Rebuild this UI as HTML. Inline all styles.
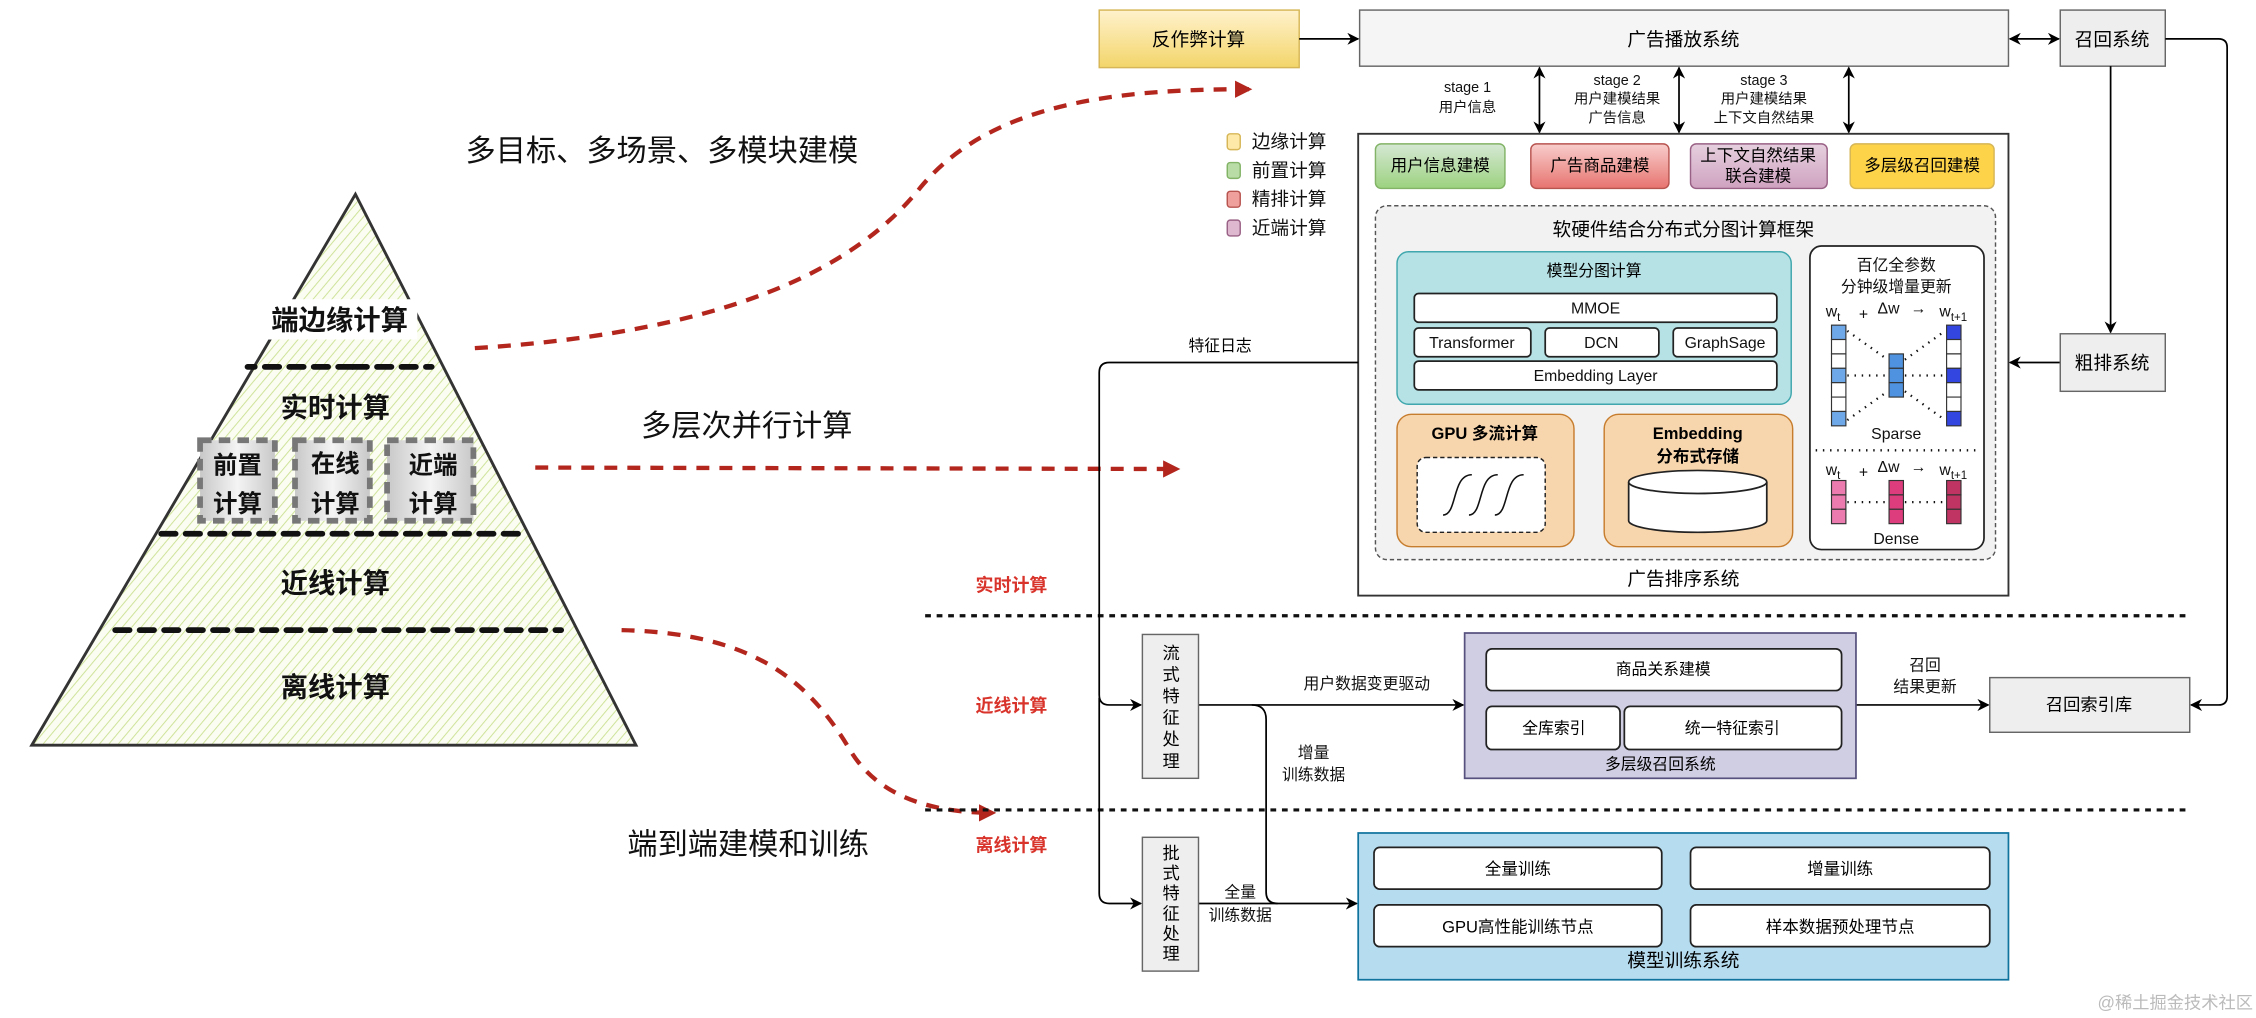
<!DOCTYPE html>
<html><head><meta charset="utf-8"><style>
html,body{margin:0;padding:0;background:#fff;}
svg{display:block;}
text{font-family:"Liberation Sans","Noto Sans CJK SC",sans-serif;}
</style></head><body>
<svg width="2256" height="1018" viewBox="0 0 1568 707.6" xmlns="http://www.w3.org/2000/svg">
<defs>
<pattern id="hatch" width="5" height="5" patternUnits="userSpaceOnUse" patternTransform="rotate(40)">
<rect width="5" height="5" fill="#fbfdf2"/><line x1="0" y1="0" x2="0" y2="5" stroke="#cfe39a" stroke-width="1.4"/></pattern>
<linearGradient id="gy" x1="0" y1="0" x2="0" y2="1"><stop offset="0" stop-color="#fff2cc"/><stop offset="1" stop-color="#f3d56a"/></linearGradient>
<linearGradient id="gg" x1="0" y1="0" x2="0" y2="1"><stop offset="0" stop-color="#d5e8d4"/><stop offset="1" stop-color="#9cd27f"/></linearGradient>
<linearGradient id="gr" x1="0" y1="0" x2="0" y2="1"><stop offset="0" stop-color="#f8cecc"/><stop offset="1" stop-color="#e7736f"/></linearGradient>
<linearGradient id="gp" x1="0" y1="0" x2="0" y2="1"><stop offset="0" stop-color="#e6d0de"/><stop offset="1" stop-color="#cfa2c0"/></linearGradient>
<linearGradient id="gs" x1="0" y1="0" x2="1" y2="0"><stop offset="0" stop-color="#c8c8c8"/><stop offset="0.5" stop-color="#f4f4f4"/><stop offset="1" stop-color="#c8c8c8"/></linearGradient>
<marker id="a" viewBox="0 0 10 10" refX="9" refY="5" markerWidth="7" markerHeight="7" orient="auto-start-reverse"><path d="M0,0 L10,5 L0,10 L3,5z" fill="#000"/></marker>
<marker id="ar" viewBox="0 0 10 10" refX="8" refY="5" markerWidth="4" markerHeight="4" orient="auto"><path d="M0,0 L10,5 L0,10z" fill="#b3261e"/></marker>
</defs>

<!-- pyramid -->
<polygon points="247,135 442,518 22,518" fill="url(#hatch)" stroke="#333" stroke-width="2"/>
<g stroke="#111" stroke-width="4" stroke-dasharray="10,7" stroke-linecap="round">
<line x1="245" y1="255" x2="300" y2="255"/><line x1="245" y1="255" x2="172" y2="255"/>
<line x1="112" y1="371" x2="362" y2="371"/>
<line x1="80" y1="438" x2="390" y2="438"/>
</g>
<g font-size="19" font-weight="bold" text-anchor="middle" fill="#111">
<rect x="182" y="208" width="108" height="28" fill="#fff"/>
<text x="236" y="229">端边缘计算</text>
<text x="233" y="290">实时计算</text>
<text x="233" y="412">近线计算</text>
<text x="233" y="484">离线计算</text>
</g>
<g stroke="#777" stroke-width="4" stroke-dasharray="8,5" fill="url(#gs)">
<rect x="139" y="306" width="52" height="56"/><rect x="205" y="306" width="52" height="56"/><rect x="269" y="306" width="60" height="56"/>
</g>
<g font-size="17" font-weight="bold" text-anchor="middle" fill="#111">
<text x="165" y="329">前置</text><text x="165" y="356">计算</text>
<text x="233" y="328">在线</text><text x="233" y="356">计算</text>
<text x="301" y="329">近端</text><text x="301" y="356">计算</text>
</g>

<!-- headings -->
<g font-size="21" fill="#111" text-anchor="middle">
<text x="460" y="112">多目标、多场景、多模块建模</text>
<text x="519" y="303">多层次并行计算</text>
<text x="520" y="594">端到端建模和训练</text>
</g>
<!-- red curves -->
<g stroke="#b3261e" stroke-width="3" fill="none" stroke-dasharray="9,7" marker-end="url(#ar)">
<path d="M330,242 C520,230 600,180 640,130 C690,70 780,62 868,62"/>
<path d="M372,325 L818,326"/>
<path d="M432,438 C520,440 560,470 590,520 C610,555 650,565 690,565"/>
</g>

<!-- top row -->
<rect x="764" y="7" width="139" height="40" fill="url(#gy)" stroke="#d6b656"/>
<text x="833" y="32" font-size="13" text-anchor="middle">反作弊计算</text>
<rect x="945" y="7" width="451" height="39" fill="#f5f5f5" stroke="#666"/>
<text x="1170" y="32" font-size="13" text-anchor="middle">广告播放系统</text>
<rect x="1432" y="7" width="73" height="39" fill="#eee" stroke="#666"/>
<text x="1468" y="32" font-size="13" text-anchor="middle">召回系统</text>
<g stroke="#000" stroke-width="1.2" fill="none">
<line x1="903" y1="27" x2="944" y2="27" marker-end="url(#a)"/>
<line x1="1397" y1="27" x2="1431" y2="27" marker-start="url(#a)" marker-end="url(#a)"/>
<path d="M1505,27 L1542,27 Q1548,27 1548,33 L1548,484 Q1548,490 1542,490 L1523,490" marker-end="url(#a)"/>
<line x1="1467" y1="46" x2="1467" y2="231" marker-end="url(#a)"/>
<line x1="1432" y1="252" x2="1397" y2="252" marker-end="url(#a)"/>
<line x1="1070" y1="47" x2="1070" y2="92" marker-start="url(#a)" marker-end="url(#a)"/>
<line x1="1167" y1="47" x2="1167" y2="92" marker-start="url(#a)" marker-end="url(#a)"/>
<line x1="1285" y1="47" x2="1285" y2="92" marker-start="url(#a)" marker-end="url(#a)"/>
</g>
<g font-size="10" text-anchor="middle" fill="#111">
<text x="1020" y="64">stage 1</text><text x="1020" y="78">用户信息</text>
<text x="1124" y="59">stage 2</text><text x="1124" y="72">用户建模结果</text><text x="1124" y="85">广告信息</text>
<text x="1226" y="59">stage 3</text><text x="1226" y="72">用户建模结果</text><text x="1226" y="85">上下文自然结果</text>
</g>
<rect x="1432" y="232" width="73" height="40" fill="#eee" stroke="#666"/>
<text x="1468" y="257" font-size="13" text-anchor="middle">粗排系统</text>

<!-- legend -->
<g font-size="13" fill="#111">
<rect x="853" y="93" width="9" height="11" rx="2" fill="#ffe9a8" stroke="#d6b656"/><text x="870" y="103">边缘计算</text>
<rect x="853" y="113" width="9" height="11" rx="2" fill="#b9dca6" stroke="#82b366"/><text x="870" y="123">前置计算</text>
<rect x="853" y="133" width="9" height="11" rx="2" fill="#f0a09c" stroke="#b85450"/><text x="870" y="143">精排计算</text>
<rect x="853" y="153" width="9" height="11" rx="2" fill="#ddb8cf" stroke="#996185"/><text x="870" y="163">近端计算</text>
</g>

<!-- ranking system -->
<rect x="944" y="93" width="452" height="321" fill="#fff" stroke="#333" stroke-width="1.3"/>
<text x="1170" y="407" font-size="13" text-anchor="middle">广告排序系统</text>
<rect x="956" y="100" width="90" height="31" rx="4" fill="url(#gg)" stroke="#82b366"/>
<text x="1001" y="119" font-size="11.5" text-anchor="middle">用户信息建模</text>
<rect x="1064" y="100" width="96" height="31" rx="4" fill="url(#gr)" stroke="#b85450"/>
<text x="1112" y="119" font-size="11.5" text-anchor="middle">广告商品建模</text>
<rect x="1175" y="100" width="95" height="31" rx="4" fill="url(#gp)" stroke="#996185"/>
<text x="1222" y="112" font-size="11.5" text-anchor="middle">上下文自然结果</text><text x="1222" y="126" font-size="11.5" text-anchor="middle">联合建模</text>
<rect x="1286" y="100" width="100" height="31" rx="4" fill="#fdd34a" stroke="#d6b656"/>
<text x="1336" y="119" font-size="11.5" text-anchor="middle">多层级召回建模</text>

<rect x="956" y="143" width="431" height="246" rx="8" fill="#f2f2f2" stroke="#555" stroke-dasharray="3,2"/>
<text x="1170" y="164" font-size="13" text-anchor="middle">软硬件结合分布式分图计算框架</text>
<rect x="971" y="175" width="274" height="106" rx="8" fill="#b6e2e5" stroke="#3fa7ad"/>
<text x="1108" y="192" font-size="11" text-anchor="middle">模型分图计算</text>
<g fill="#fff" stroke="#222" stroke-width="1.2">
<rect x="983" y="204" width="252" height="20" rx="3"/>
<rect x="983" y="228" width="81" height="20" rx="3"/><rect x="1074" y="228" width="79" height="20" rx="3"/><rect x="1163" y="228" width="72" height="20" rx="3"/>
<rect x="983" y="251" width="252" height="20" rx="3"/>
</g>
<g font-size="11" text-anchor="middle" fill="#111">
<text x="1109" y="218">MMOE</text><text x="1023" y="242">Transformer</text><text x="1113" y="242">DCN</text><text x="1199" y="242">GraphSage</text><text x="1109" y="265">Embedding Layer</text>
</g>
<rect x="971" y="288" width="123" height="92" rx="10" fill="#f8d6ad" stroke="#c77d2e"/>
<text x="1032" y="305" font-size="11.5" font-weight="bold" text-anchor="middle">GPU 多流计算</text>
<rect x="985" y="318" width="89" height="52" rx="6" fill="#fff" stroke="#222" stroke-dasharray="3,2"/>
<g stroke="#111" stroke-width="1.1" fill="none">
<path d="M1003,358 C1013,358 1009,330 1023,330"/><path d="M1021,358 C1031,358 1027,330 1041,330"/><path d="M1039,358 C1049,358 1045,330 1059,330"/>
</g>
<rect x="1115" y="288" width="131" height="92" rx="10" fill="#f8d6ad" stroke="#c77d2e"/>
<text x="1180" y="305" font-size="11.5" font-weight="bold" text-anchor="middle">Embedding</text>
<text x="1180" y="321" font-size="11.5" font-weight="bold" text-anchor="middle">分布式存储</text>
<path d="M1132,335 L1132,362 A48,8 0 0 0 1228,362 L1228,335" fill="#fff" stroke="#222" stroke-width="1.2"/>
<ellipse cx="1180" cy="335" rx="48" ry="8" fill="#fff" stroke="#222" stroke-width="1.2"/>

<!-- sparse panel -->
<rect x="1258" y="171" width="121" height="211" rx="8" fill="#fff" stroke="#222" stroke-width="1.2"/>
<g font-size="11" text-anchor="middle" fill="#111">
<text x="1318" y="188">百亿全参数</text><text x="1318" y="203">分钟级增量更新</text>
<text x="1318" y="305">Sparse</text><text x="1318" y="378">Dense</text>
</g>
<g font-size="11" fill="#111">
<text x="1269" y="220">w<tspan font-size="8" dy="3">t</tspan></text><text x="1292" y="222">+</text><text x="1305" y="218">Δw</text><text x="1328" y="218">→</text><text x="1348" y="220">w<tspan font-size="8" dy="3">t+1</tspan></text>
<text x="1269" y="330">w<tspan font-size="8" dy="3">t</tspan></text><text x="1292" y="332">+</text><text x="1305" y="328">Δw</text><text x="1328" y="328">→</text><text x="1348" y="330">w<tspan font-size="8" dy="3">t+1</tspan></text>
</g>
<g stroke="#333" stroke-width="0.8">
<rect x="1273" y="226" width="10" height="10" fill="#6fa8e8"/><rect x="1273" y="236" width="10" height="10" fill="#fff"/><rect x="1273" y="246" width="10" height="10" fill="#fff"/><rect x="1273" y="256" width="10" height="10" fill="#6fa8e8"/><rect x="1273" y="266" width="10" height="10" fill="#fff"/><rect x="1273" y="276" width="10" height="10" fill="#fff"/><rect x="1273" y="286" width="10" height="10" fill="#6fa8e8"/>
<rect x="1353" y="226" width="10" height="10" fill="#3346e0"/><rect x="1353" y="236" width="10" height="10" fill="#fff"/><rect x="1353" y="246" width="10" height="10" fill="#fff"/><rect x="1353" y="256" width="10" height="10" fill="#3346e0"/><rect x="1353" y="266" width="10" height="10" fill="#fff"/><rect x="1353" y="276" width="10" height="10" fill="#fff"/><rect x="1353" y="286" width="10" height="10" fill="#3346e0"/>
<rect x="1313" y="246" width="10" height="10" fill="#4f93e0"/><rect x="1313" y="256" width="10" height="10" fill="#4f93e0"/><rect x="1313" y="266" width="10" height="10" fill="#4f93e0"/>
<rect x="1273" y="334" width="10" height="10" fill="#ec7bb0"/><rect x="1273" y="344" width="10" height="10" fill="#ec7bb0"/><rect x="1273" y="354" width="10" height="10" fill="#ec7bb0"/>
<rect x="1313" y="334" width="10" height="10" fill="#de3d7d"/><rect x="1313" y="344" width="10" height="10" fill="#de3d7d"/><rect x="1313" y="354" width="10" height="10" fill="#de3d7d"/>
<rect x="1353" y="334" width="10" height="10" fill="#bf3463"/><rect x="1353" y="344" width="10" height="10" fill="#bf3463"/><rect x="1353" y="354" width="10" height="10" fill="#bf3463"/>
</g>
<g stroke="#111" stroke-width="1.6" stroke-dasharray="1,4" fill="none">
<line x1="1284" y1="230" x2="1312" y2="250"/><line x1="1284" y1="292" x2="1312" y2="272"/><line x1="1284" y1="261" x2="1312" y2="261"/>
<line x1="1324" y1="250" x2="1352" y2="230"/><line x1="1324" y1="272" x2="1352" y2="292"/><line x1="1324" y1="261" x2="1352" y2="261"/>
<line x1="1262" y1="313" x2="1376" y2="313"/>
<line x1="1284" y1="349" x2="1312" y2="349"/><line x1="1324" y1="349" x2="1352" y2="349"/>
</g>

<!-- separators -->
<g stroke="#111" stroke-width="2.2" stroke-dasharray="4,4">
<line x1="643" y1="428" x2="1520" y2="428"/><line x1="643" y1="563" x2="1520" y2="563"/>
</g>
<g font-size="12.5" font-weight="bold" fill="#d9342b" text-anchor="middle">
<text x="703" y="411">实时计算</text><text x="703" y="495">近线计算</text><text x="703" y="592">离线计算</text>
</g>

<!-- feature log lines -->
<text x="848" y="244" font-size="11" text-anchor="middle">特征日志</text>
<g stroke="#000" stroke-width="1.2" fill="none">
<path d="M944,252 L771,252 Q764,252 764,259 L764,483 Q764,490 771,490 L793,490" marker-end="url(#a)"/>
<path d="M764,485 L764,621 Q764,628 771,628 L793,628" marker-end="url(#a)"/>
<line x1="833" y1="490" x2="1017" y2="490" marker-end="url(#a)"/>
<path d="M870,490 Q880,490 880,500 L880,620 Q880,628 888,628"/>
<line x1="833" y1="628" x2="943" y2="628" marker-end="url(#a)"/>
<line x1="1290" y1="490" x2="1382" y2="490" marker-end="url(#a)"/>
</g>
<g font-size="11" text-anchor="middle" fill="#111">
<text x="950" y="479">用户数据变更驱动</text>
<text x="913" y="527">增量</text><text x="913" y="542">训练数据</text>
<text x="862" y="624">全量</text><text x="862" y="640">训练数据</text>
<text x="1338" y="466">召回</text><text x="1338" y="481">结果更新</text>
</g>

<rect x="794" y="441" width="39" height="100" fill="#eee" stroke="#666"/>
<g font-size="12" text-anchor="middle"><text x="814" y="458">流</text><text x="814" y="473">式</text><text x="814" y="488">特</text><text x="814" y="503">征</text><text x="814" y="518">处</text><text x="814" y="533">理</text></g>
<rect x="794" y="582" width="39" height="93" fill="#eee" stroke="#666"/>
<g font-size="12" text-anchor="middle"><text x="814" y="597">批</text><text x="814" y="611">式</text><text x="814" y="625">特</text><text x="814" y="639">征</text><text x="814" y="653">处</text><text x="814" y="667">理</text></g>

<rect x="1018" y="440" width="272" height="101" fill="#d0cee2" stroke="#56517e" stroke-width="1.2"/>
<g fill="#fff" stroke="#222" stroke-width="1.2">
<rect x="1033" y="451" width="247" height="29" rx="4"/><rect x="1033" y="491" width="93" height="30" rx="4"/><rect x="1129" y="491" width="151" height="30" rx="4"/>
</g>
<g font-size="11" text-anchor="middle"><text x="1156" y="469">商品关系建模</text><text x="1080" y="510">全库索引</text><text x="1204" y="510">统一特征索引</text><text x="1154" y="535">多层级召回系统</text></g>
<rect x="1383" y="471" width="139" height="38" fill="#eee" stroke="#666"/>
<text x="1452" y="494" font-size="12" text-anchor="middle">召回索引库</text>

<rect x="944" y="579" width="452" height="102" fill="#b5dcef" stroke="#10739e" stroke-width="1.2"/>
<g fill="#fff" stroke="#222" stroke-width="1.2">
<rect x="955" y="589" width="200" height="29" rx="4"/><rect x="1175" y="589" width="208" height="29" rx="4"/>
<rect x="955" y="629" width="200" height="29" rx="4"/><rect x="1175" y="629" width="208" height="29" rx="4"/>
</g>
<g font-size="11.5" text-anchor="middle"><text x="1055" y="608">全量训练</text><text x="1279" y="608">增量训练</text><text x="1055" y="648">GPU高性能训练节点</text><text x="1279" y="648">样本数据预处理节点</text>
<text x="1170" y="672" font-size="13">模型训练系统</text></g>

<text x="1566" y="701" font-size="12" fill="#bbb" text-anchor="end">@稀土掘金技术社区</text>
</svg>
</body></html>
